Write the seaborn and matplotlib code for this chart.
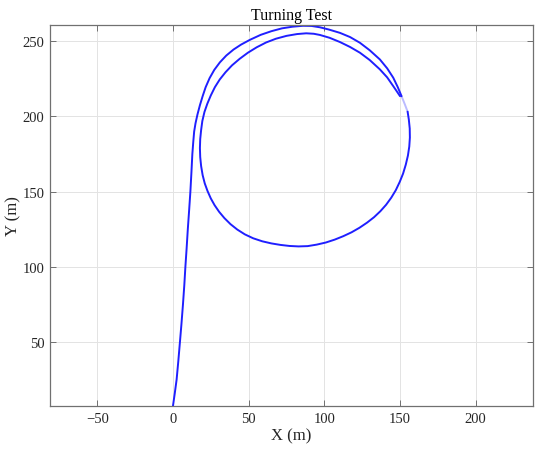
import matplotlib
matplotlib.use('Agg')
import matplotlib.pyplot as plt
import seaborn as sns
import pandas as pd

# trajectory (m)
# first lap: start of run, up the left side and round the outer top
lap1_x = [0, 1.2, 2.4, 3.5, 4.6, 5.6, 6.6, 7.5, 8.2, 9.0, 9.8, 10.7, 11.5, 12.2, 12.8,
          13.4, 14.0, 14.9, 16.2, 17.8, 19.6, 21.6, 24.2, 27.3, 31.0, 35.2, 40.0, 45.0,
          50.9, 58.0, 65.0, 72.0, 79.0, 86.0, 91.5, 97.1, 103.0, 110.3, 117.0, 123.5, 130.0,
          136.7, 141.5, 145.5, 148.5, 151.0]
lap1_y = [7.5, 16, 25, 37, 50, 62, 75, 88, 100, 112, 125, 138, 150, 163, 175,
          183, 190, 195.5, 201.4, 207.5, 213.5, 219.5, 225.5, 231.0, 236.0, 240.5, 244.5, 247.8,
          251.0, 254.3, 256.7, 258.6, 259.7, 260.3, 260.2, 259.3, 257.8, 255.6, 252.8, 249.0, 244.0,
          237.9, 232.0, 225.8, 219.5, 213.5]

# short faded piece where the two laps meet
fade_x = [151.0, 153.2, 155.0]
fade_y = [213.5, 208.0, 203.2]

# second part: down the right side, round the bottom and the inner top
lap2_x = [155.0, 155.8, 156.4, 156.5, 156.1, 155.2, 153.8, 152.0, 149.8, 147.2, 144.2,
          140.8, 137.0, 132.8, 128.2, 123.2, 118.0, 112.5, 106.8, 101.0, 95.0, 89.0,
          83.0, 77.0, 71.0, 65.0, 59.0, 53.0, 47.5, 42.5, 38.0, 34.0, 30.5, 27.5, 25.0,
          22.8, 21.0, 19.6, 18.6, 18.0, 17.8, 18.0, 18.6, 19.4, 20.8, 22.7, 25.0, 27.7,
          30.9, 34.7, 39.0, 44.0, 49.5, 55.3, 61.5, 68.0, 75.0, 82.0, 88.0, 93.0, 97.1,
          103.5, 110.3, 117.0, 123.5, 130.0, 136.7, 141.5, 145.5, 148.0, 150.0]
lap2_y = [203.2, 198, 192, 186, 180, 174, 168, 162, 156.5, 151, 146,
          141.3, 137, 133, 129.4, 126, 123, 120.4, 118.1, 116.2, 114.8, 113.8,
          113.6, 113.9, 114.6, 115.6, 117, 119, 121.6, 124.8, 128.4, 132.4, 136.6, 141, 145.5,
          150.5, 155.5, 161, 167, 173, 179, 185, 191, 197, 203, 208.5, 214, 219.5,
          224.6, 229.4, 234.0, 238.3, 242.4, 246.0, 249.2, 251.7, 253.6, 254.8, 255.3, 255.0, 254.2,
          252.3, 249.5, 246.2, 242.4, 237.5, 231.3, 226.0, 220.2, 216.5, 213.5]

x_ticks = [-50, 0, 50, 100, 150, 200]
x_tick_labels = ['\u221250', '0', '50', '100', '150', '200']
y_ticks = [50, 100, 150, 200, 250]

sns.set_style('ticks')
plt.rcParams['font.family'] = ['Liberation Serif', 'DejaVu Serif']
plt.rcParams['axes.edgecolor'] = '#707070'
plt.rcParams['xtick.color'] = '#707070'
plt.rcParams['ytick.color'] = '#707070'
plt.rcParams['xtick.labelcolor'] = '#262626'
plt.rcParams['ytick.labelcolor'] = '#262626'

fig = plt.figure(figsize=(5.5, 4.52), dpi=100)
ax = fig.add_axes([0.091, 0.0996, 0.878, 0.8428])

blue = '#1f1fff'
df1 = pd.DataFrame({'x': lap1_x, 'y': lap1_y})
df2 = pd.DataFrame({'x': lap2_x, 'y': lap2_y})
dff = pd.DataFrame({'x': fade_x, 'y': fade_y})
sns.lineplot(data=df1, x='x', y='y', sort=False, estimator=None, ax=ax, color=blue, linewidth=1.4)
sns.lineplot(data=dff, x='x', y='y', sort=False, estimator=None, ax=ax, color=blue, linewidth=1.4, alpha=0.3)
sns.lineplot(data=df2, x='x', y='y', sort=False, estimator=None, ax=ax, color=blue, linewidth=1.4)

ax.set_xlim(-81.2, 237.8)
ax.set_ylim(7.5, 260.8)
ax.set_xticks(x_ticks)
ax.set_yticks(y_ticks)
ax.set_xticklabels(x_tick_labels)
ax.grid(True, color='#e3e3e3', linewidth=0.7)
ax.set_axisbelow(True)
ax.tick_params(direction='in', length=4, width=0.7, top=True, right=True, labelsize=10.5, pad=4)
for s in ax.spines.values():
    s.set_linewidth(0.9)

ax.set_xlabel('X (m)', fontsize=12, color='#262626', labelpad=2)
ax.set_ylabel('Y (m)', fontsize=12, color='#262626', labelpad=1)
ax.set_title('Turning Test', fontsize=11.5, color='black', pad=4)

fig.savefig('out.png', dpi=100)
